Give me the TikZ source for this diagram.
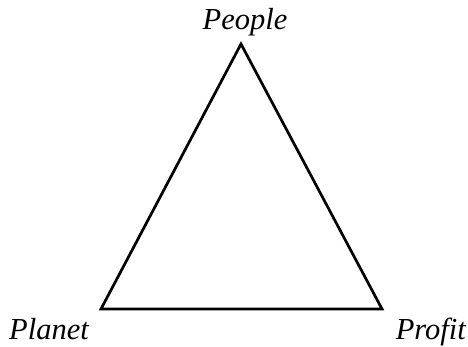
\documentclass[tikz,border=0pt]{standalone}
\usepackage{fontspec}
\setmainfont{Liberation Serif}
\begin{document}
\begin{tikzpicture}[x=1pt,y=-1pt,
  lbl/.style={font=\fontsize{30.5}{36}\selectfont\itshape, inner sep=0pt},
  edge/.style={line width=2.7pt, line join=miter}]
\useasboundingbox (0,0) rectangle (468,347);
\coordinate (top) at (241,44);
\coordinate (bl) at (101,309);
\coordinate (br) at (382,309);
\draw[edge] (top) -- (bl) -- (br) -- cycle;
\node[lbl, anchor=base] (people) at (245,30) {People};
\node[lbl, anchor=base west] (planet) at (9,339) {Planet};
\node[lbl, anchor=base east] (profit) at (466,339) {Profit};
\end{tikzpicture}
\end{document}
